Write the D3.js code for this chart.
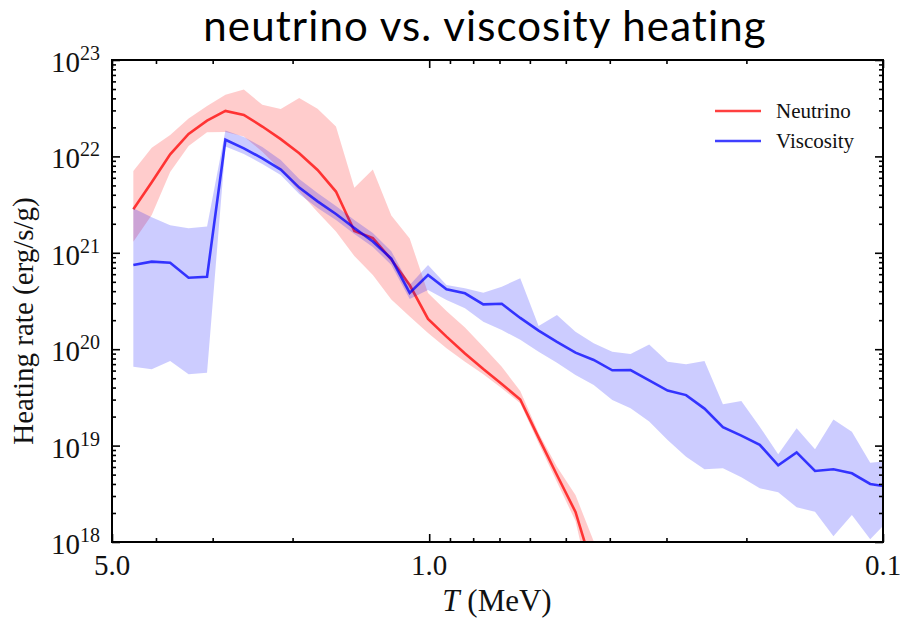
<!DOCTYPE html>
<html><head><meta charset="utf-8">
<script src="https://cdn.jsdelivr.net/npm/d3@7"></script>
<style>body{margin:0;background:#fff} svg{display:block}</style>
</head><body><svg id="c" width="900" height="623"></svg>
<script>
// ---- data ----
const temperature = [4.487, 4.087, 3.722, 3.390, 3.087, 2.812, 2.561, 2.332, 2.124, 1.934,
  1.762, 1.605, 1.462, 1.331, 1.212, 1.104, 1.006, 0.916, 0.834, 0.760,
  0.692, 0.630, 0.574, 0.523, 0.476, 0.434, 0.395, 0.360, 0.3275, 0.2983,
  0.2716, 0.2474, 0.2253, 0.2052, 0.1869, 0.1702, 0.155, 0.1412, 0.1286, 0.1171,
  0.1067, 0.0971];

const neutrinoRate = [2.83e21, 5.39e21, 1.05e22, 1.71e22, 2.35e22, 2.96e22, 2.69e22, 2.04e22, 1.51e22, 1.08e22,
  7.23e21, 4.32e21, 1.68e21, 1.42e21, 8.52e20, 4.63e20, 2.06e20, 1.35e20, 9.03e19, 6.23e19,
  4.36e19, 3.01e19, 1.21e19, 4.95e18, 2.05e18, 4.89e17];
const neutrinoHigh = [7.06e21, 1.23e22, 1.67e22, 2.48e22, 3.33e22, 4.35e22, 4.95e22, 3.43e22, 3.10e22, 4.03e22,
  3.12e22, 2.04e22, 4.72e21, 7.31e21, 2.44e21, 1.41e21, 3.83e20, 2.49e20, 1.68e20, 1.06e20,
  6.58e19, 3.68e19, 1.35e19, 6.04e18, 3.07e18, 1.02e18];
const neutrinoLow = [1.30e21, 2.47e21, 6.89e21, 1.28e22, 1.78e22, 1.79e22, 1.61e22, 1.12e22, 7.23e21, 4.30e21,
  2.65e21, 1.66e21, 9.26e20, 5.89e20, 3.28e20, 2.18e20, 1.47e20, 1.02e20, 7.42e19, 5.49e19,
  3.93e19, 2.75e19, 1.06e19, 4.19e18, 1.65e18, 2.5e17];

const viscosityRate = [7.47e20, 8.09e20, 7.89e20, 5.52e20, 5.65e20, 1.49e22, 1.21e22, 9.56e21, 7.30e21, 4.75e21,
  3.42e21, 2.53e21, 1.81e21, 1.31e21, 8.69e20, 3.83e20, 5.89e20, 4.18e20, 3.80e20, 2.92e20,
  2.96e20, 2.11e20, 1.56e20, 1.19e20, 9.22e19, 7.74e19, 6.04e19, 6.08e19, 4.76e19, 3.72e19,
  3.34e19, 2.42e19, 1.55e19, 1.27e19, 1.02e19, 6.25e18, 8.50e18, 5.45e18, 5.68e18, 5.16e18,
  4.00e18, 3.72e18];
const viscosityHigh = [2.89e21, 2.34e21, 1.93e21, 1.80e21, 1.87e21, 1.86e22, 1.59e22, 1.25e22, 9.18e21, 5.83e21,
  4.17e21, 3.06e21, 2.19e21, 1.60e21, 1.04e21, 4.63e20, 7.47e20, 4.63e20, 4.28e20, 3.86e20,
  4.45e20, 5.44e20, 1.74e20, 2.26e20, 1.52e20, 1.15e20, 9.42e19, 8.92e19, 1.12e20, 7.42e19,
  6.97e19, 7.55e19, 2.68e19, 2.90e19, 1.57e19, 8.12e18, 1.51e19, 9.15e18, 1.87e19, 1.39e19,
  6.65e18, 6.92e18];
const viscosityLow = [6.58e19, 6.19e19, 7.55e19, 5.49e19, 5.70e19, 1.27e22, 1.06e22, 8.34e21, 6.41e21, 4.07e21,
  2.91e21, 2.19e21, 1.57e21, 1.15e21, 7.47e20, 3.32e20, 4.11e20, 3.24e20, 2.66e20, 1.93e20,
  1.58e20, 1.25e20, 9.42e19, 7.24e19, 5.40e19, 4.25e19, 2.97e19, 2.44e19, 1.78e19, 1.14e19,
  7.67e18, 5.68e18, 5.81e18, 4.69e18, 3.61e18, 3.28e18, 2.29e18, 2.06e18, 1.15e18, 1.91e18,
  1.07e18, 1.69e18];

const xMajorTicks = [5, 1, 0.1];
const xTickLabels = ["5.0", "1.0", "0.1"];
const xMinorTicks = [4, 3, 2, 0.9, 0.8, 0.7, 0.6, 0.5, 0.4, 0.3, 0.2];
const yExponents = [18, 19, 20, 21, 22, 23];
const seriesNames = ["Neutrino", "Viscosity"];
const titleText = "neutrino vs. viscosity heating";
const xLabelItalic = "T";
const xLabelRest = " (MeV)";
const yLabelText = "Heating rate (erg/s/g)";

// ---- layout ----
const svg = d3.select("#c");
const L = 112, R = 883, T = 60, B = 542;
const serif = "'Liberation Serif', 'Times New Roman', serif";
const x = d3.scaleLog().domain([5, 0.1]).range([L, R]);
const y = d3.scaleLog().domain([1e18, 1e23]).range([B, T]);

const yMajorTicks = yExponents.map(e => Math.pow(10, e));
const yMinorTicks = [];
yExponents.slice(0, -1).forEach(e => { for (let m = 2; m <= 9; m++) yMinorTicks.push(m * Math.pow(10, e)); });

const colors = { red: "rgba(255,0,0,0.75)", redFill: "rgba(255,0,0,0.2)",
                 blue: "rgba(0,0,255,0.75)", blueFill: "rgba(0,0,255,0.2)" };

svg.append("defs").append("clipPath").attr("id", "plotclip")
  .append("rect").attr("x", L).attr("y", T).attr("width", R - L).attr("height", B - T);

const plot = svg.append("g").attr("clip-path", "url(#plotclip)");

function drawSeries(vals, lo, hi, fill, stroke) {
  const idx = d3.range(vals.length);
  const area = d3.area().x(i => x(temperature[i])).y0(i => y(lo[i])).y1(i => y(hi[i]));
  const line = d3.line().x(i => x(temperature[i])).y(i => y(vals[i]));
  plot.append("path").attr("d", area(idx)).attr("fill", fill).attr("stroke", "none");
  plot.append("path").attr("d", line(idx)).attr("fill", "none").attr("stroke", stroke)
    .attr("stroke-width", 2.6).attr("stroke-linejoin", "miter");
}
drawSeries(neutrinoRate, neutrinoLow, neutrinoHigh, colors.redFill, colors.red);
drawSeries(viscosityRate, viscosityLow, viscosityHigh, colors.blueFill, colors.blue);

// ---- ticks (inward on all sides) ----
function tickAxis(axisFn, scale, ticks, size, transform) {
  const g = svg.append("g").attr("transform", transform)
    .call(axisFn(scale).tickValues(ticks).tickSize(size).tickFormat(""));
  g.select(".domain").remove();
  g.selectAll(".tick line").attr("stroke", "#000").attr("stroke-width", 1.6);
}
tickAxis(d3.axisBottom, x, xMajorTicks, -8, `translate(0,${B})`);
tickAxis(d3.axisBottom, x, xMinorTicks, -4, `translate(0,${B})`);
tickAxis(d3.axisTop, x, xMajorTicks, -8, `translate(0,${T})`);
tickAxis(d3.axisTop, x, xMinorTicks, -4, `translate(0,${T})`);
tickAxis(d3.axisLeft, y, yMajorTicks, -8, `translate(${L},0)`);
tickAxis(d3.axisLeft, y, yMinorTicks, -4, `translate(${L},0)`);
tickAxis(d3.axisRight, y, yMajorTicks, -8, `translate(${R},0)`);
tickAxis(d3.axisRight, y, yMinorTicks, -4, `translate(${R},0)`);

svg.append("rect").attr("x", L).attr("y", T).attr("width", R - L).attr("height", B - T)
  .attr("fill", "none").attr("stroke", "#000").attr("stroke-width", 2);

// ---- tick labels ----
xMajorTicks.forEach((v, i) => {
  svg.append("text").attr("x", x(v)).attr("y", B + 33).attr("text-anchor", "middle")
    .attr("font-family", serif).attr("font-size", 29).attr("fill", "#111").text(xTickLabels[i]);
});
yMajorTicks.forEach((v, i) => {
  const t = svg.append("text").attr("x", L - 12).attr("y", y(v) + 12).attr("text-anchor", "end")
    .attr("font-family", serif).attr("font-size", 29).attr("fill", "#111");
  t.append("tspan").text("10");
  t.append("tspan").attr("dy", -12).attr("font-size", 20).text(String(yExponents[i]));
});

// ---- axis labels ----
const xl = svg.append("text").attr("x", 497).attr("y", 611).attr("text-anchor", "middle")
  .attr("font-family", serif).attr("font-size", 31).attr("fill", "#111");
xl.append("tspan").attr("font-style", "italic").text(xLabelItalic);
xl.append("tspan").text(xLabelRest);

svg.append("text").attr("transform", `translate(33,${(T + B) / 2 + 20}) rotate(-90)`)
  .attr("text-anchor", "middle").attr("font-family", serif).attr("font-size", 29)
  .attr("fill", "#111").text(yLabelText);

// ---- title ----
const title = svg.append("text").attr("x", 485).attr("y", 41).attr("text-anchor", "middle")
  .attr("font-family", "Lato, 'Open Sans', sans-serif").attr("font-size", 42).attr("fill", "#000")
  .text(titleText);
const w = title.node().getComputedTextLength();
title.attr("letter-spacing", (563 - w) / (titleText.length - 1));

// ---- legend ----
const legendColors = [colors.red, colors.blue];
seriesNames.forEach((name, i) => {
  const ly = 111 + i * 30;
  svg.append("line").attr("x1", 715).attr("x2", 761).attr("y1", ly).attr("y2", ly)
    .attr("stroke", legendColors[i]).attr("stroke-width", 2.6);
  svg.append("text").attr("x", 776).attr("y", ly + 7).attr("font-family", serif)
    .attr("font-size", 21).attr("fill", "#111").text(name);
});
</script></body></html>
